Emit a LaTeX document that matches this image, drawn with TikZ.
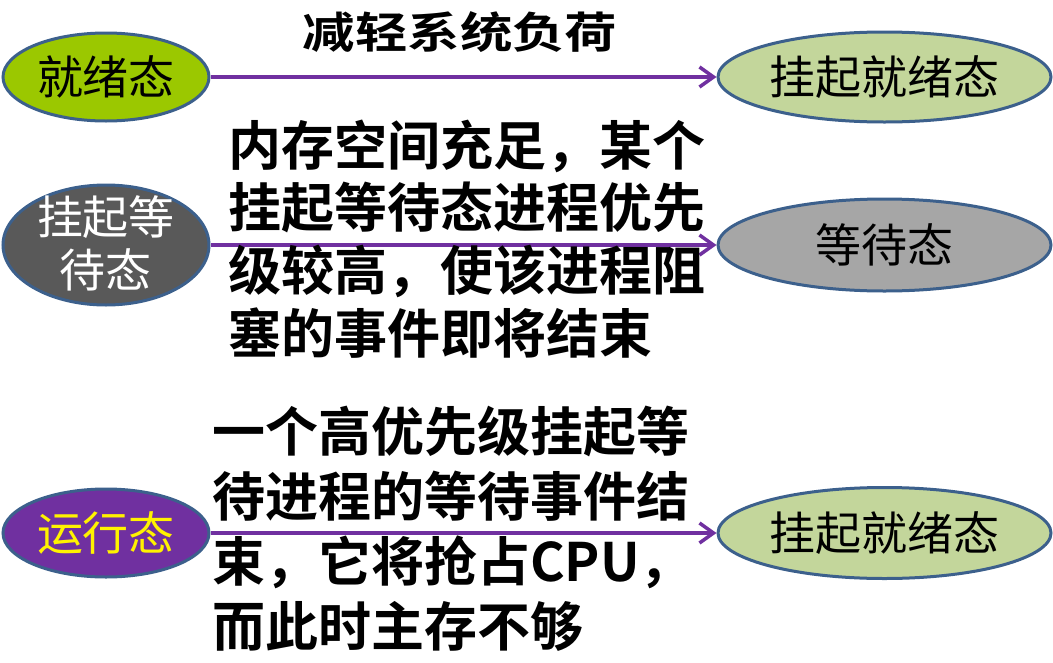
\documentclass[tikz,border=0pt]{standalone}
\usepackage{fontspec}
\setmainfont{Noto Sans CJK SC}[BoldFont={Noto Sans CJK SC Bold}]
\usetikzlibrary{shapes.geometric,arrows.meta}
\definecolor{bordc}{RGB}{60,96,140}
\definecolor{readyc}{RGB}{155,200,0}
\definecolor{swaitc}{RGB}{89,89,89}
\definecolor{runc}{RGB}{112,48,160}
\definecolor{sreadyc}{RGB}{195,214,155}
\definecolor{waitc}{RGB}{166,166,166}
\definecolor{arrc}{RGB}{112,48,160}
\tikzset{
  stateE/.style={ellipse, draw=bordc, line width=3pt, inner sep=0pt},
  leftE/.style={stateE, minimum width=206pt, minimum height=88pt},
  rightE/.style={stateE, minimum width=333pt, minimum height=90pt},
  stxt/.style={inner sep=0pt, align=center, font=\fontsize{46}{53}\selectfont},
  btxt/.style={inner sep=0pt, align=left, font=\fontsize{53}{62.7}\selectfont\bfseries},
  arr/.style={draw=arrc, line width=3.5pt, -{Straight Barb[length=14pt,width=20pt]}}
}
\begin{document}
\begin{tikzpicture}[x=1pt,y=-1pt]
\useasboundingbox[fill=white] (0,0) rectangle (1053,662);
% left ellipses
\node[leftE, fill=readyc] (ready) at (106,77) {};
\node[stxt] (readyT) at (ready) {就绪态};
\node[leftE, fill=swaitc, minimum height=120pt] (swait) at (106,245) {};
\node[stxt, text=white] (swaitT) at (106,243) {挂起等\\待态};
\node[leftE, fill=runc] (run) at (106,533) {};
\node[stxt, text=yellow] (runT) at (run) {运行态};
% right ellipses
\node[rightE, fill=sreadyc] (sr1) at (884.5,77) {};
\node[stxt] (sr1T) at (sr1) {挂起就绪态};
\node[rightE, fill=waitc, minimum height=92pt] (wait) at (884.5,245) {};
\node[stxt] (waitT) at (wait) {等待态};
\node[rightE, fill=sreadyc, minimum height=91pt] (sr2) at (884.5,533) {};
\node[stxt] (sr2T) at (sr2) {挂起就绪态};
% arrows
\draw[arr] (ready.east) -- (sr1.west);
\draw[arr] (swait.east) -- (wait.west);
\draw[arr] (run.east) -- (sr2.west);
% labels
\node[inner sep=0pt, font=\fontsize{43}{50}\selectfont\bfseries, xscale=1.22] (lab1) at (460,32) {减轻系统负荷};
\node[btxt, anchor=west] (lab2) at (228,239) {内存空间充足，某个\\挂起等待态进程优先\\级较高，使该进程阻\\塞的事件即将结束};
\node[btxt, anchor=west, font=\fontsize{53}{65}\selectfont\bfseries] (lab3) at (212,529) {一个高优先级挂起等\\待进程的等待事件结\\束，它将抢占CPU，\\而此时主存不够};
\end{tikzpicture}
\end{document}
